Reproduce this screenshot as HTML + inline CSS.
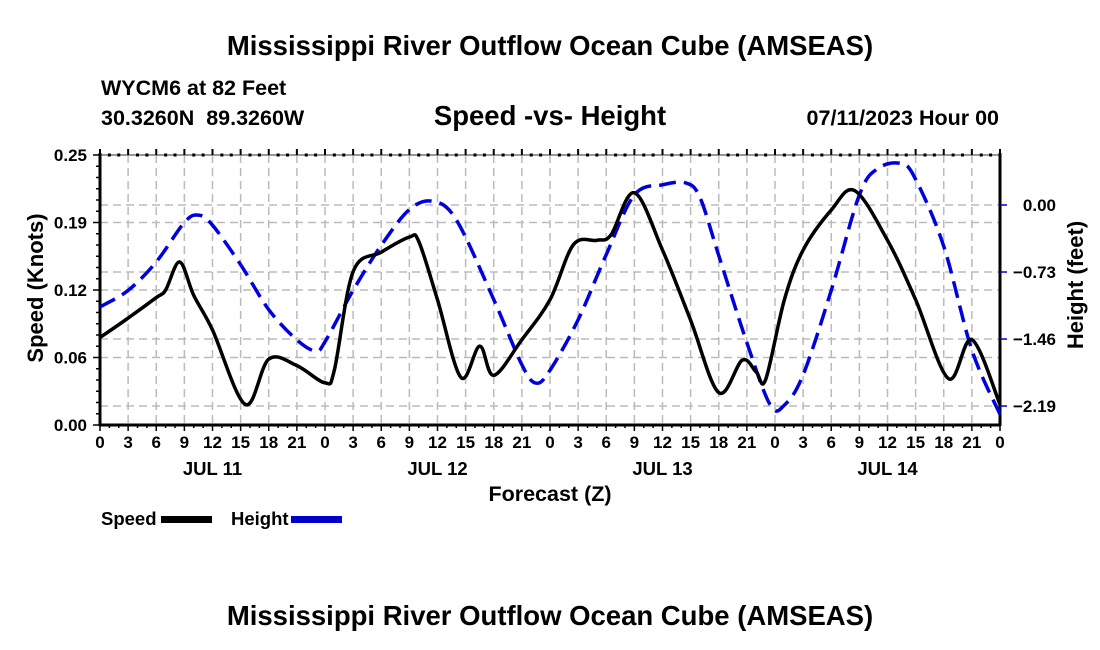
<!DOCTYPE html>
<html><head><meta charset="utf-8"><style>
body{margin:0;background:#fff;}
svg{display:block;font-family:"Liberation Sans",Arial,sans-serif;font-weight:bold;}
</style></head><body>
<svg id="chart" width="1100" height="650" viewBox="0 0 1100 650">
<text x="550" y="55" text-anchor="middle" font-size="27.5">Mississippi River Outflow Ocean Cube (AMSEAS)</text>
<text x="101" y="95" font-size="21.5">WYCM6 at 82 Feet</text>
<text x="101" y="125" font-size="21.5" xml:space="preserve">30.3260N  89.3260W</text>
<text x="550" y="125" text-anchor="middle" font-size="27.5">Speed -vs- Height</text>
<text x="999" y="125" text-anchor="end" font-size="21.5">07/11/2023 Hour 00</text>
<g id="grid"></g>
<g id="axes"></g>
<g id="series"></g>
<text x="550" y="501" text-anchor="middle" font-size="21.5">Forecast (Z)</text>
<text transform="translate(43,288) rotate(-90)" text-anchor="middle" font-size="22">Speed (Knots)</text>
<text transform="translate(1083,285) rotate(-90)" text-anchor="middle" font-size="22">Height (feet)</text>
<g>
<text x="101" y="525" font-size="18.5">Speed</text>
<rect x="161" y="516" width="51" height="7" fill="#000"/>
</g>
<g>
<text x="231" y="525" font-size="18.5">Height</text>
<rect x="291" y="516" width="51" height="7" fill="#0000cc"/>
</g>
<text x="550" y="625" text-anchor="middle" font-size="27.5">Mississippi River Outflow Ocean Cube (AMSEAS)</text>
</svg>
<script>
const speedHours=[0,3,6,7,8.5,10,12,15.5,18,21,24,25,27,30,33,34,36,38.5,40.5,42,45,48,50.5,53,54.5,57,60,63,66,68.5,70,71,73,75,78,80.5,84,87,90.5,93,96];
const speedValues=[0.081,0.099,0.118,0.125,0.151,0.120,0.088,0.019,0.061,0.055,0.039,0.051,0.142,0.160,0.174,0.170,0.116,0.044,0.073,0.046,0.079,0.116,0.167,0.171,0.176,0.215,0.162,0.097,0.030,0.060,0.049,0.042,0.116,0.162,0.199,0.217,0.171,0.116,0.043,0.079,0.019];
const heightHours=[0,3,6,9,10.5,12,15,18,21,23,24,27,30,33,35.5,38,42,45,46.5,48,51,54,57,60,62.5,64,66,69,71.5,73,75,78,81,83,85.5,87,90,93,96];
const heightValues=[-1.11,-0.93,-0.62,-0.19,-0.11,-0.22,-0.65,-1.14,-1.47,-1.59,-1.49,-0.93,-0.44,-0.05,0.04,-0.16,-1.03,-1.74,-1.94,-1.80,-1.25,-0.54,0.11,0.22,0.24,0.08,-0.55,-1.50,-2.18,-2.18,-1.85,-0.93,0.11,0.40,0.45,0.28,-0.45,-1.58,-2.28];
const speedTickLabels=["0.00","0.06","0.12","0.19","0.25"];
const heightTicks=[0,-0.73,-1.46,-2.19];
const heightTickLabels=["0.00","\u22120.73","\u22121.46","\u22122.19"];
const dayLabels=["JUL 11","JUL 12","JUL 13","JUL 14"];

const L=100,R=1000,T=155,B=425;
const NS="http://www.w3.org/2000/svg";
const xS=h=>L+(R-L)*h/96;
const yS=v=>B-(B-T)*v/0.25;
const yH=f=>205-f*91.8;
function mk(tag,attrs,parent){const e=document.createElementNS(NS,tag);for(const k in attrs)e.setAttribute(k,attrs[k]);parent.appendChild(e);return e;}
const grid=document.getElementById('grid'),axes=document.getElementById('axes'),series=document.getElementById('series');
for(let h=3;h<96;h+=3){const l=mk('line',{x1:xS(h),x2:xS(h),y1:T,y2:B,stroke:'#bbb','stroke-width':1.5,'stroke-dasharray':'8,5'},grid);

}
for(let i=1;i<4;i++){const l=mk('line',{x1:L,x2:R,y1:yS(0.0625*i),y2:yS(0.0625*i),stroke:'#bbb','stroke-width':1.5,'stroke-dasharray':'8,5'},grid);

}
heightTicks.forEach(f=>{const l=mk('line',{x1:L,x2:R,y1:yH(f),y2:yH(f),stroke:'#bbb','stroke-width':1.5,'stroke-dasharray':'8,5'},grid);

});
mk('line',{x1:L,x2:R,y1:T,y2:T,stroke:'#777','stroke-width':1.5},axes);
const bx=mk('line',{x1:L-1,x2:R+1,y1:B,y2:B,stroke:'#000','stroke-width':3},axes);


const ly=mk('line',{x1:L,x2:L,y1:T-2,y2:B+1,stroke:'#000','stroke-width':3},axes);


const ry=mk('line',{x1:R,x2:R,y1:T-2,y2:B+1,stroke:'#000','stroke-width':3},axes);


for(let h=0;h<=96;h++){const x=xS(h);const maj=h%3===0;
mk('line',{x1:x,x2:x,y1:T,y2:T-(maj?6:0),stroke:'#000','stroke-width':2},axes);
if(!maj)mk('rect',{x:x-1.5,y:T-1.5,width:3,height:3,fill:'#000'},axes);
mk('line',{x1:x,x2:x,y1:B,y2:B+(maj?6:3),stroke:'#000','stroke-width':1.5},axes);
if(maj){const t=mk('text',{x:x,y:448,'text-anchor':'middle','font-size':17},axes);t.textContent=String(h%24);

}}
dayLabels.forEach((d,i)=>{const t=mk('text',{x:xS(i*24+12),y:475,'text-anchor':'middle','font-size':18.5},axes);t.textContent=d;

});
for(let i=0;i<=24;i++){const y=B-(B-T)*i/24;mk('line',{x1:L,x2:L-(i%6===0?7:4),y1:y,y2:y,stroke:'#000','stroke-width':1.5},axes);}
speedTickLabels.forEach((s,i)=>{const t=mk('text',{x:87,y:yS(0.0625*i)+6,'text-anchor':'end','font-size':17},axes);t.textContent=s;

});
heightTicks.forEach((f,i)=>{mk('line',{x1:R,x2:R+7,y1:yH(f),y2:yH(f),stroke:'#0000cc','stroke-width':1.5},axes);
const t=mk('text',{x:1056,y:yH(f)+6,'text-anchor':'end','font-size':17},axes);t.textContent=heightTickLabels[i];

});
function smooth(pts){let d=`M${pts[0][0]},${pts[0][1]}`;
for(let i=0;i<pts.length-1;i++){const p0=pts[Math.max(0,i-1)],p1=pts[i],p2=pts[i+1],p3=pts[Math.min(pts.length-1,i+2)];
const c1=[p1[0]+(p2[0]-p0[0])/6,p1[1]+(p2[1]-p0[1])/6],c2=[p2[0]-(p3[0]-p1[0])/6,p2[1]-(p3[1]-p1[1])/6];
d+=`C${c1[0]},${c1[1]} ${c2[0]},${c2[1]} ${p2[0]},${p2[1]}`;}return d;}
const hp=mk('path',{d:smooth(heightHours.map((h,i)=>[xS(h),yH(heightValues[i])])),fill:'none',stroke:'#0000dd','stroke-width':3.5,'stroke-dasharray':'17,8'},series);


const sp=mk('path',{d:smooth(speedHours.map((h,i)=>[xS(h),yS(speedValues[i])])),fill:'none',stroke:'#000','stroke-width':3.5},series);


</script>
</body></html>
